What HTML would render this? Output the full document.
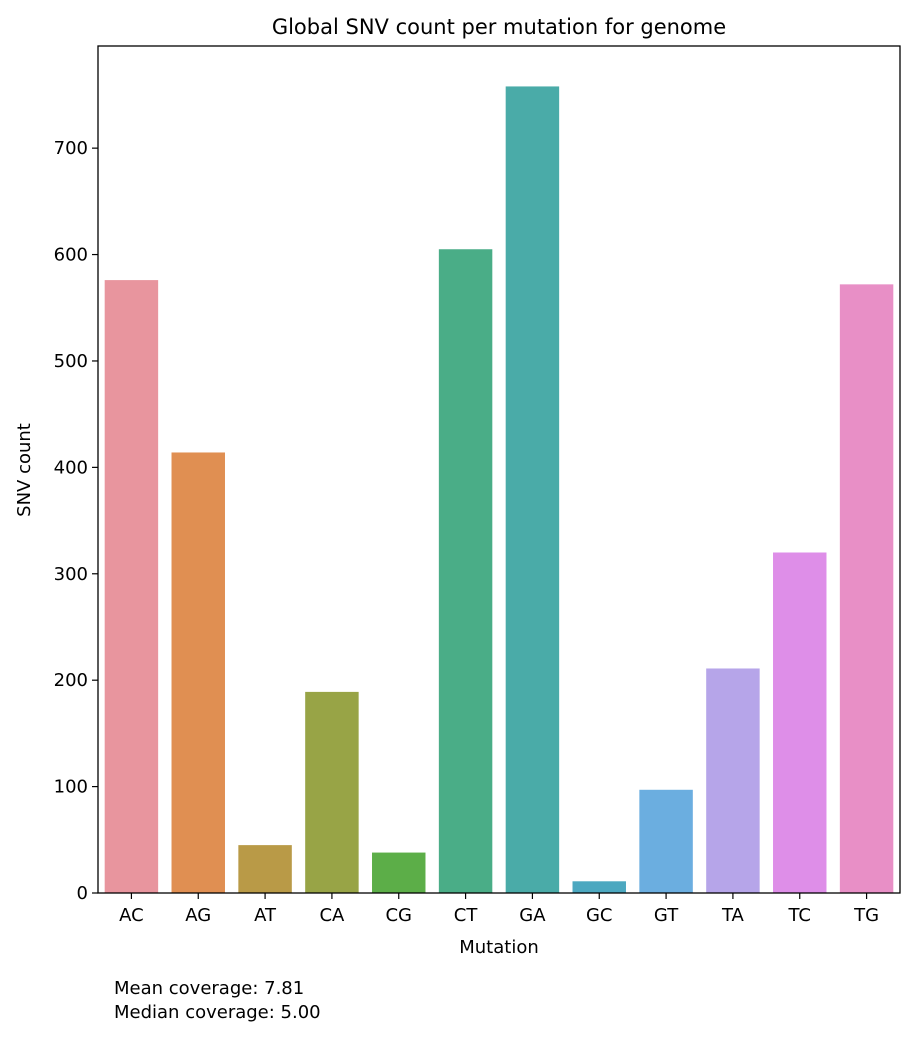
<!DOCTYPE html>
<html><head><meta charset="utf-8"><style>
body{margin:0;background:#fff;font-family:"Liberation Sans","DejaVu Sans",sans-serif;}
</style></head><body>
<svg width="914" height="1036" xmlns="http://www.w3.org/2000/svg" font-family="'DejaVu Sans','Liberation Sans',sans-serif">
<text x="499" y="34" font-size="21" text-anchor="middle">Global SNV count per mutation for genome</text>
<g id="bars"></g>
<g id="yticks"></g>
<g id="xticks"></g>
<rect x="98" y="46" width="802" height="847" fill="none" stroke="#000" stroke-width="1.3"/>
<text x="499" y="953" font-size="18" text-anchor="middle">Mutation</text>
<text transform="translate(30,470) rotate(-90)" font-size="18" text-anchor="middle">SNV count</text>
<text x="114" y="994" font-size="18">Mean coverage: 7.81</text>
<text x="114" y="1018" font-size="18">Median coverage: 5.00</text>
</svg>
<script>
const categories=["AC","AG","AT","CA","CG","CT","GA","GC","GT","TA","TC","TG"];
const values=[576,414,45,189,38,605,758,11,97,211,320,572];
const colors=["#e8959e","#e08f52","#b99a47","#98a446","#5cae48","#4aad87","#4aaba8","#4ca8c0","#6baee0","#b6a5e9","#de8ee8","#e88fc6"];
const yTicks=[0,100,200,300,400,500,600,700];
const NS="http://www.w3.org/2000/svg";
const x0=98,x1=900,yTop=46,yBot=893,yMax=796;
const step=(x1-x0)/categories.length,bw=step*0.8;
const y=v=>yBot-(v/yMax)*(yBot-yTop);
const xc=i=>x0+step*(i+0.5);
function mk(t,a){const e=document.createElementNS(NS,t);for(const k in a)e.setAttribute(k,a[k]);return e;}
const gb=document.getElementById('bars'),gy=document.getElementById('yticks'),gx=document.getElementById('xticks');
categories.forEach((c,i)=>{
 const r=mk('rect',{x:xc(i)-bw/2,y:y(values[i]),width:bw,height:yBot-y(values[i]),fill:colors[i]});
 
 
 gb.appendChild(r);
 const l=mk('line',{x1:xc(i),x2:xc(i),y1:yBot,y2:yBot+6,stroke:'#000','stroke-width':1.2});
 
 
 gx.appendChild(l);
 const t=mk('text',{x:xc(i),y:yBot+28,'font-size':18,'text-anchor':'middle'});
 t.textContent=c;
 
 
 gx.appendChild(t);
});
yTicks.forEach(v=>{
 const l=mk('line',{x1:x0-6,x2:x0,y1:y(v),y2:y(v),stroke:'#000','stroke-width':1.2});
 
 
 gy.appendChild(l);
 const t=mk('text',{x:x0-10,y:y(v)+6,'font-size':18,'text-anchor':'end'});
 t.textContent=v;
 
 
 gy.appendChild(t);
});
</script>
</body></html>
